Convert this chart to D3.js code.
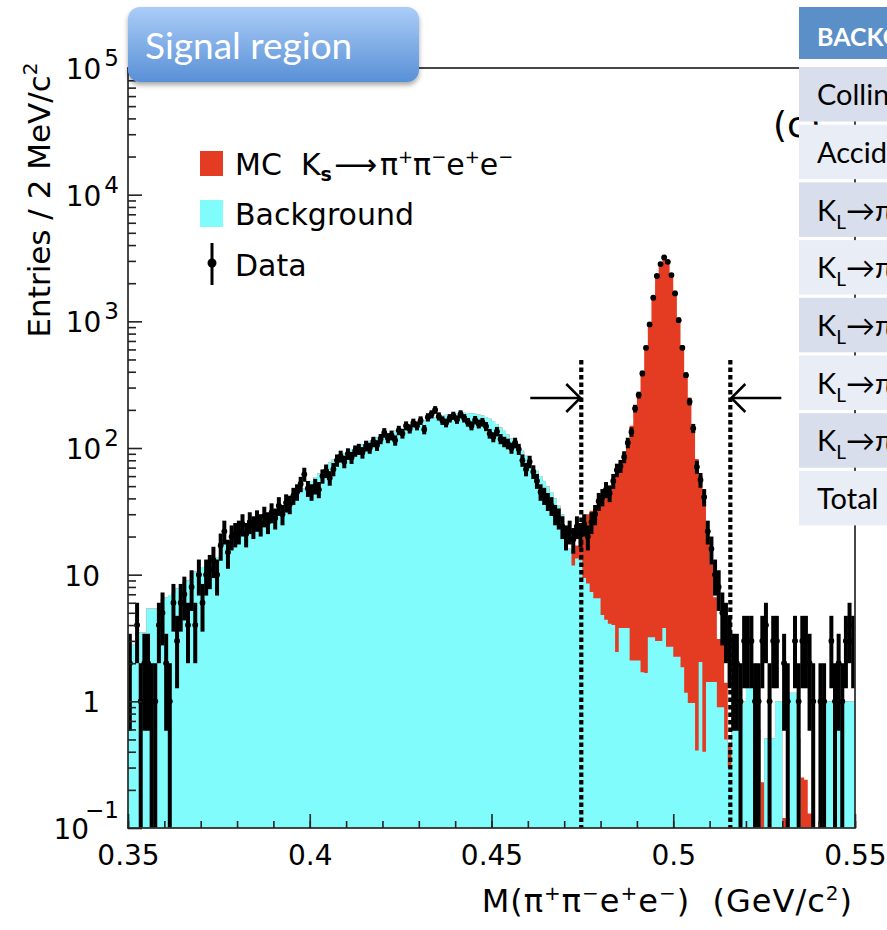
<!DOCTYPE html>
<meta charset="utf-8">
<style>
body { margin: 0; background: #fff; }
svg { display: block; }
text { font-family: "DejaVu Sans", sans-serif; fill: #000; }
.tbl text { font-family: Lato, "Open Sans", sans-serif; }
</style>
<body>
<script src="https://d3js.org/d3.v7.min.js"></script>
<script>

// 200 bins of 1 MeV between 0.350 and 0.550 GeV/c^2
var binLo = 0.35, binW = 0.001;

// background MC (cyan)
var background = [
  2.8, 2.8, 3.5, 3.5, 3.5, 5.4, 5.4, 5.4, 5.2, 6.4,
  6.6, 6.9, 7.2, 7.8, 8.0, 8.7, 9.0, 10.4, 10.6, 11.3,
  11.5, 11.6, 12.4, 12.7, 13.8, 14.2, 17.5, 18.2, 19.3, 19.8,
  20.8, 21.3, 22, 23.5, 24.3, 25, 25.8, 26.5, 27.5, 28.5,
  29.5, 31, 33, 35, 39, 41, 43, 45, 48, 51,
  55, 59, 63, 67, 72, 77, 81, 84, 88, 91,
  95, 98, 101, 104, 107, 111, 114, 118, 121, 124,
  127, 131, 134, 137, 140, 143, 147, 150, 153, 157,
  161, 165, 168, 172, 175, 178, 181, 183, 185, 187,
  189, 190, 190, 189, 188, 186, 184, 181, 176, 170,
  163, 155, 146, 137, 128, 119, 110, 102, 95, 87,
  79, 72, 66, 60, 55, 50, 45, 40, 35, 30,
  24, 16, 11.8, 13.4, 13, 9.4, 8.5, 7.3, 6.5, 6.5,
  4.8, 4.4, 4.1, 4.0, 2.45, 3.8, 3.8, 3.8, 2.1, 2.1,
  2.1, 1.7, 1.67, 3.2, 3.2, 3.0, 3.0, 3.8, 2.7, 2.7,
  2.25, 2.25, 1.86, 1.17, 0.97, 0.97, 0.41, 2.04, 0.40, 1.42,
  1.42, 1.42, 0.9, 0.9, 0.5, 0.3, 1.0, 1.0, 0.6, 1.0,
  1.3, 1.3, 1.3, 0.52, 0, 0.51, 0.51, 0.51, 1.0, 1.0,
  0, 0, 1.17, 1.17, 0.51, 0, 0, 0, 0, 0,
  0, 1.0, 1.0, 1.0, 1.0, 1.0, 1.0, 1.0, 1.0, 1.0
];

// signal MC Ks -> pi+ pi- e+ e- (red), stacked on the background
var signal = [
  0, 0, 0, 0, 0, 0, 0, 0, 0, 0,
  0, 0, 0, 0, 0, 0, 0, 0, 0, 0,
  0, 0, 0, 0, 0, 0, 0, 0, 0, 0,
  0, 0, 0, 0, 0, 0, 0, 0, 0, 0,
  0, 0, 0, 0, 0, 0, 0, 0, 0, 0,
  0, 0, 0, 0, 0, 0, 0, 0, 0, 0,
  0, 0, 0, 0, 0, 0, 0, 0, 0, 0,
  0, 0, 0, 0, 0, 0, 0, 0, 0, 0,
  0, 0, 0, 0, 0, 0, 0, 0, 0, 0,
  0, 0, 0, 0, 0, 0, 0, 0, 0, 0,
  0, 0, 0, 0, 0, 0, 0, 0, 0, 0,
  0, 0, 0, 0, 0, 0, 0, 0, 0, 0,
  0, 0, 3.7, 3.6, 6, 15.6, 21.5, 24.7, 26.5, 33.5,
  37.2, 40.6, 45.9, 54, 62.5, 76, 88, 111, 148, 198,
  263, 398, 638, 977, 1547, 2297, 2897, 3246, 2997, 2397,
  1748, 1078, 648, 389, 249, 149, 81.6, 58, 39.6, 18.6,
  10.6, 5.2, 2.2, 2.2, 0.9, 0.15, 0, 0, 0, 0,
  0, 0, 0, 0.08, 0.23, 0, 0, 0, 0, 0,
  0.12, 0.12, 0, 0, 0, 0.25, 0.24, 0.13, 0.13, 0,
  0, 0, 0, 0, 0, 0, 0, 0, 0, 0
];

// data entries per bin
var data = [
  2, 0, 4, 1, 2, 2, 1, 1, 4, 5,
  2, 1, 6, 3, 6, 7, 4, 8, 4, 10,
  6, 10, 11, 13, 10, 17, 22, 15, 20, 21,
  22, 25, 21, 26, 24, 27, 25, 29, 26, 31,
  28, 35, 30, 37, 36, 42, 45, 52, 62, 48,
  45, 50, 47, 60, 66, 58, 68, 80, 86, 78,
  90, 84, 95, 98, 92, 104, 100, 112, 105, 118,
  132, 120, 126, 115, 138, 130, 150, 142, 158, 150,
  165, 140, 175, 185, 200, 178, 165, 158, 172, 180,
  168, 185, 172, 160, 150, 166, 155, 160, 148, 130,
  122, 135, 118, 112, 108, 100, 110, 98, 80, 68,
  78, 65, 55, 45, 42, 38, 35, 30, 28, 24,
  20, 22, 19, 24, 21, 25, 20, 26, 30, 38,
  41, 47, 44, 55, 67, 72, 85, 110, 134, 205,
  262, 388, 618, 946, 1535, 2280, 2830, 3190, 2950, 2320,
  1660, 1022, 618, 376, 232, 143, 71, 56, 41, 22,
  16, 10, 8, 5, 4, 3, 2, 2, 1, 3,
  3, 3, 1, 1, 3, 4, 1, 3, 3, 0,
  2, 1, 0, 3, 1, 3, 3, 2, 1, 0,
  1, 1, 0, 3, 1, 2, 1, 3, 4, 3
];

var cuts = [0.4747, 0.5157];
var xTicks = [0.35, 0.4, 0.45, 0.5, 0.55];
var yExp = [-1, 0, 1, 2, 3, 4, 5];

// background table on the right (cut by the page edge)
var tableHead = "BACKGROUND";
var tableRows = [
  {k: false, text: "Collinear"},
  {k: false, text: "Accidental"},
  {k: true, text: "\u2192\u03c0\u207a\u03c0\u207b\u03c0\u2070"},
  {k: true, text: "\u2192\u03c0\u207a\u03c0\u207b"},
  {k: true, text: "\u2192\u03c0e\u03bd"},
  {k: true, text: "\u2192\u03c0\u03bc\u03bd"},
  {k: true, text: "\u2192\u03c0\u207a\u03c0\u207b\u03b3"},
  {k: false, text: "Total"}
];

var red = "#e43c22", cyan = "#80fcfc";

var svg = d3.select("body").append("svg")
    .attr("width", 887).attr("height", 930);

var m = {left: 128, right: 855, top: 68, bottom: 828};
var x = d3.scaleLinear().domain([0.35, 0.55]).range([m.left, m.right]);
var y = d3.scaleLog().domain([0.1, 1e5]).range([m.bottom, m.top]).clamp(true);

var defs = svg.append("defs");
defs.append("clipPath").attr("id", "plot")
  .append("rect").attr("x", m.left).attr("y", m.top)
  .attr("width", m.right - m.left).attr("height", m.bottom - m.top);

var bins = d3.range(background.length).map(function(i) {
  return {lo: binLo + i * binW, hi: binLo + (i + 1) * binW,
          bkg: background[i], tot: background[i] + signal[i], n: data[i]};
});

var plot = svg.append("g").attr("clip-path", "url(#plot)");

// stacked histograms as step areas: total (red) first, background (cyan) on top
function stepArea(key) {
  var last = bins[bins.length - 1];
  var pts = bins.map(function(d) { return {x: d.lo, v: d[key]}; })
    .concat([{x: last.hi, v: last[key]}]);
  return d3.area().curve(d3.curveStepAfter)
    .x(function(d) { return x(d.x); })
    .y0(m.bottom)
    .y1(function(d) { return y(Math.max(d.v, 0.05)); })(pts);
}
plot.append("path").attr("d", stepArea("tot")).attr("fill", red);
plot.append("path").attr("d", stepArea("bkg")).attr("fill", cyan);

// cut lines and arrows
var cutTop = 360, arrowY = 398;
cuts.forEach(function(c, i) {
  var cx = x(c);
  svg.append("line").attr("x1", cx).attr("x2", cx)
    .attr("y1", cutTop).attr("y2", m.bottom)
    .attr("stroke", "#000").attr("stroke-width", 4.2)
    .attr("stroke-dasharray", "4.5,3");
  var dir = i === 0 ? -1 : 1;
  svg.append("line").attr("x1", cx + dir * 51).attr("x2", cx + dir * 1)
    .attr("y1", arrowY).attr("y2", arrowY)
    .attr("stroke", "#000").attr("stroke-width", 2.5);
  svg.append("path")
    .attr("d", "M" + (cx + dir * 15) + "," + (arrowY - 14) + "L" + (cx + dir * 1) + "," + arrowY +
               "L" + (cx + dir * 15) + "," + (arrowY + 14))
    .attr("fill", "none").attr("stroke", "#000").attr("stroke-width", 2.5);
});

// data points with Poisson error bars
var pts = plot.append("g");
bins.filter(function(d) { return d.n > 0; }).forEach(function(d) {
  var e = Math.sqrt(d.n);
  var xc = x((d.lo + d.hi) / 2);
  pts.append("line").attr("x1", xc).attr("x2", xc)
    .attr("y1", y(Math.max(d.n - e, 0.01))).attr("y2", y(d.n + e))
    .attr("stroke", "#000").attr("stroke-width", 4);
  pts.append("line").attr("x1", x(d.lo) - 0.5).attr("x2", x(d.hi) + 0.5)
    .attr("y1", y(d.n)).attr("y2", y(d.n))
    .attr("stroke", "#000").attr("stroke-width", 3.2);
  pts.append("circle").attr("cx", xc).attr("cy", y(d.n)).attr("r", 2.9)
    .attr("fill", "#000");
});

// frame
svg.append("rect").attr("x", m.left).attr("y", m.top)
  .attr("width", m.right - m.left).attr("height", m.bottom - m.top)
  .attr("fill", "none").attr("stroke", "#333").attr("stroke-width", 1.8);

// y ticks (inward)
var yMinor = [];
yExp.slice(0, -1).forEach(function(p) {
  d3.range(2, 10).forEach(function(k) { yMinor.push(k * Math.pow(10, p)); });
});
var yMajor = yExp.map(function(p) { return Math.pow(10, p); });
function styleTicks(g) {
  g.select(".domain").remove();
  g.selectAll("line").attr("stroke", "#222").attr("stroke-width", 1.6);
}
svg.append("g").attr("transform", "translate(" + m.left + ",0)")
  .call(d3.axisLeft(y).tickValues(yMinor).tickSize(-8).tickSizeOuter(0).tickFormat(""))
  .call(styleTicks);
svg.append("g").attr("transform", "translate(" + m.left + ",0)")
  .call(d3.axisLeft(y).tickValues(yMajor).tickSize(-14).tickSizeOuter(0).tickFormat(""))
  .call(styleTicks);

// x ticks (inward)
var xMinor = d3.range(35, 56).map(function(k) { return k / 100; });
svg.append("g").attr("transform", "translate(0," + m.bottom + ")")
  .call(d3.axisBottom(x).tickValues(xMinor).tickSize(-7).tickSizeOuter(0).tickFormat(""))
  .call(styleTicks);
svg.append("g").attr("transform", "translate(0," + m.bottom + ")")
  .call(d3.axisBottom(x).tickValues(xTicks).tickSize(-14).tickSizeOuter(0).tickPadding(17).tickFormat(d3.format("~g")))
  .call(styleTicks)
  .call(function(g) {
    g.selectAll("text").attr("font-size", 28).style("fill", "#000")
      .style("font-family", "DejaVu Sans, sans-serif");
  });

// y tick labels
yExp.forEach(function(p) {
  var ty = y(Math.pow(10, p));
  if (p === 0 || p === 1) {
    svg.append("text").attr("x", 100).attr("y", ty + 11)
      .attr("text-anchor", "end").attr("font-size", 28).text(p === 0 ? "1" : "10");
  } else {
    var t = svg.append("text").attr("x", 119).attr("y", ty + 11)
      .attr("text-anchor", "end").attr("font-size", 28);
    t.append("tspan").text("10");
    t.append("tspan").attr("dx", p < 0 ? -4 : 3).attr("dy", p < 0 ? -21 : -13)
      .attr("font-size", 23).text(p < 0 ? "\u2212" + (-p) : String(p));
  }
});

// axis titles
var yt = svg.append("text").attr("transform", "translate(50,200) rotate(-90)")
  .attr("text-anchor", "middle").attr("font-size", 31);
yt.append("tspan").text("Entries / 2 MeV/c");
yt.append("tspan").attr("dy", -13).attr("font-size", 20).text("2");

var xt = svg.append("text").attr("x", 853).attr("y", 912)
  .attr("text-anchor", "end").attr("font-size", 32)
  .style("white-space", "pre").style("letter-spacing", "1px");
[["M(\u03c0", 0], ["+", 1], ["\u03c0", 0], ["\u2212", 1], ["e", 0], ["+", 1], ["e", 0], ["\u2212", 1],
 [")  (GeV/c", 0], ["2", 1], [")", 0]].forEach(function(s, i, arr) {
  var prevSup = i > 0 && arr[i - 1][1];
  xt.append("tspan")
    .attr("dy", s[1] ? -12 : (prevSup ? 12 : 0))
    .attr("font-size", s[1] ? 20 : 32)
    .text(s[0]);
});

// legend
svg.append("rect").attr("x", 200).attr("y", 151).attr("width", 23).attr("height", 25).attr("fill", red);
svg.append("rect").attr("x", 200).attr("y", 200).attr("width", 23).attr("height", 27).attr("fill", cyan);
svg.append("line").attr("x1", 212).attr("x2", 212).attr("y1", 243).attr("y2", 285)
  .attr("stroke", "#000").attr("stroke-width", 3);
svg.append("circle").attr("cx", 212).attr("cy", 263).attr("r", 4.5).attr("fill", "#000");

var lg = svg.append("text").attr("x", 235).attr("y", 175).attr("font-size", 30).style("white-space", "pre");
lg.append("tspan").text("MC  K");
lg.append("tspan").attr("dy", 6).attr("font-size", 19).attr("font-weight", "bold").text("s");
lg.append("tspan").attr("dy", -6).attr("dx", 2).text("\u27f6");
lg.append("tspan").attr("dx", 3).text("\u03c0");
[["+", "\u03c0"], ["\u2212", "e"], ["+", "e"], ["\u2212", ""]].forEach(function(s) {
  lg.append("tspan").attr("dy", -12).attr("font-size", 18).text(s[0]);
  lg.append("tspan").attr("dy", 12).attr("font-size", 30).text(s[1]);
});
svg.append("text").attr("x", 235).attr("y", 225).attr("font-size", 30).text("Background");
svg.append("text").attr("x", 235).attr("y", 276).attr("font-size", 30).text("Data");

// panel tag
svg.append("text").attr("x", 773).attr("y", 137).attr("font-size", 36).text("(c)");

// "Signal region" box
var sh = defs.append("filter").attr("id", "shadow").attr("x", "-10%").attr("y", "-10%")
  .attr("width", "130%").attr("height", "140%");
sh.append("feDropShadow").attr("dx", 0).attr("dy", 3).attr("stdDeviation", 2.5)
  .attr("flood-color", "#000").attr("flood-opacity", 0.35);
var gr = defs.append("linearGradient").attr("id", "boxfill")
  .attr("x1", 0).attr("y1", 0).attr("x2", 0).attr("y2", 1);
gr.append("stop").attr("offset", "0%").attr("stop-color", "#abcdf8");
gr.append("stop").attr("offset", "100%").attr("stop-color", "#5990d6");
svg.append("rect").attr("x", 128).attr("y", 7).attr("width", 291).attr("height", 75)
  .attr("rx", 12).attr("fill", "url(#boxfill)").attr("filter", "url(#shadow)");
svg.append("text").attr("x", 145).attr("y", 59)
  .style("font-family", "Lato, 'Open Sans', sans-serif").attr("font-size", 37)
  .style("fill", "#fff").text("Signal region");

// background table
var tbl = svg.append("g").attr("class", "tbl");
var tx = 799, rowH = 54.5, rowGap = 3.2, row0 = 67;
tbl.append("rect").attr("x", tx).attr("y", 7).attr("width", 120).attr("height", 52).attr("fill", "#5b8fc8");
tbl.append("text").attr("x", 817).attr("y", 46).attr("font-size", 25).attr("font-weight", "bold")
  .style("fill", "#fff").text(tableHead);
tableRows.forEach(function(r, i) {
  var ry = row0 + i * (rowH + rowGap);
  tbl.append("rect").attr("x", tx).attr("y", ry).attr("width", 120).attr("height", rowH)
    .attr("fill", i % 2 === 0 ? "#d8deec" : "#e9edf5");
  var t = tbl.append("text").attr("x", 817).attr("y", ry + rowH / 2 + 11).attr("font-size", 29);
  if (r.k) {
    t.append("tspan").text("K");
    t.append("tspan").attr("dy", 8).attr("font-size", 19).text("L");
    t.append("tspan").attr("dy", -8).text(r.text);
  } else {
    t.text(r.text);
  }
});

</script>
</body>
